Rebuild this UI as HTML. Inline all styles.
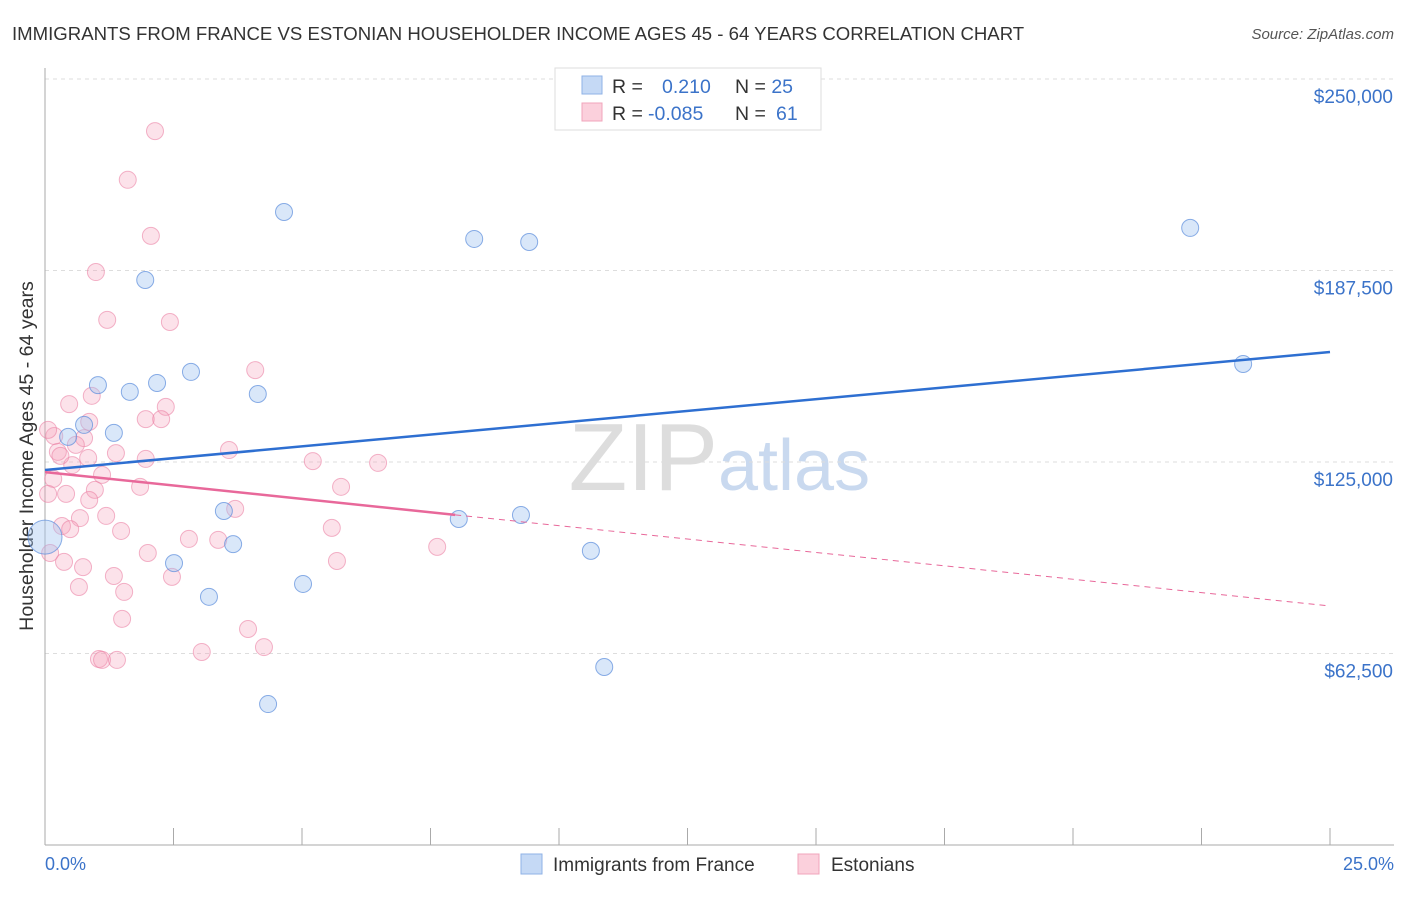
<!DOCTYPE html>
<html><head><meta charset="utf-8"><style>
body{margin:0;background:#fff;font-family:"Liberation Sans",sans-serif;}
svg text{font-family:"Liberation Sans",sans-serif;}
</style></head><body>
<svg width="1406" height="892">
<text x="12" y="40" font-size="18.6" fill="#333">IMMIGRANTS FROM FRANCE VS ESTONIAN HOUSEHOLDER INCOME AGES 45 - 64 YEARS CORRELATION CHART</text>
<text x="1394" y="39" font-size="15" fill="#555" text-anchor="end" font-style="italic">Source: ZipAtlas.com</text>
<text x="718" y="490" font-size="96" fill="#ddd" text-anchor="end" font-family="Liberation Serif">ZIP</text>
<text x="718" y="490" font-size="72" fill="#c9d9ef">atlas</text>
<g id="grid"></g>
<line x1="45" y1="68" x2="45" y2="845" stroke="#aaa"/>
<line x1="45" y1="845" x2="1394" y2="845" stroke="#aaa"/>
<g id="ticks"></g>
<text x="33" y="456" font-size="19.6" fill="#333" text-anchor="middle" transform="rotate(-90 33 456)">Householder Income Ages 45 - 64 years</text>
<text x="45" y="870" font-size="18" fill="#3b73c9">0.0%</text>
<text x="1394" y="870" font-size="18" fill="#3b73c9" text-anchor="end">25.0%</text>
<g id="pts"></g>
<g id="lines"></g>
<g>
<rect x="555" y="68" width="266" height="62" fill="#fff" stroke="#ddd"/>
<rect x="582" y="76" width="20" height="18" fill="#c5d9f5" stroke="#8fb2e6"/>
<rect x="582" y="103" width="20" height="18" fill="#fbd0dc" stroke="#f0a5bb"/>
<text x="612" y="93" font-size="19.5" fill="#333">R = <tspan fill="#3b73c9" x="662">0.210</tspan><tspan x="735">N = </tspan><tspan fill="#3b73c9">25</tspan></text>
<text x="612" y="120" font-size="19.5" fill="#333">R = <tspan fill="#3b73c9" x="648">-0.085</tspan><tspan x="735">N = </tspan><tspan fill="#3b73c9" x="776">61</tspan></text>
</g>
<g>
<rect x="521" y="854" width="21" height="20" fill="#c5d9f5" stroke="#8fb2e6"/>
<text x="553" y="871" font-size="19" fill="#333">Immigrants from France</text>
<rect x="798" y="854" width="21" height="20" fill="#fbd0dc" stroke="#f0a5bb"/>
<text x="831" y="871" font-size="19" fill="#333">Estonians</text>
</g>
</svg>
<script>
const yTicks=[62500,125000,187500,250000];
const yTickLabels=["$62,500","$125,000","$187,500","$250,000"];
const xTicks=[0,2.5,5,7.5,10,12.5,15,17.5,20,22.5,25];
const blueX=[4.65,8.35,9.42,22.28,1.95,23.31,1.03,1.65,2.18,2.84,4.14,0.76,1.34,0.45,3.48,3.66,2.51,3.19,5.02,8.05,9.26,10.62,10.88,4.34];
const blueY=[206600,197800,196800,201400,184400,157000,150100,147900,150800,154400,147200,137100,134500,133200,109000,98200,92000,81000,85200,106400,107700,96000,58100,46000];
const pinkX=[2.14,1.61,2.06,0.99,1.21,2.43,4.09,0.47,0.91,2.35,1.96,2.26,0.86,0.18,0.76,0.6,0.25,1.38,3.58,0.84,1.96,5.21,6.48,0.53,0.16,1.11,1.85,5.76,0.97,0.41,0.06,0.86,3.7,1.19,0.68,5.58,0.33,0.49,1.48,2.8,3.37,7.63,2.0,0.1,0.37,5.68,0.74,1.34,2.47,0.66,1.54,1.5,3.95,4.26,3.05,1.05,1.11,1.4,0.06,0.3];
const pinkY=[233000,217100,198800,187000,171400,170700,155000,143900,146600,143000,139000,139000,138100,133500,132800,130600,128300,127900,128900,126300,126000,125300,124700,124000,119500,120800,116900,116900,115900,114600,114600,112600,109700,107400,106700,103500,104100,103100,102500,99900,99600,97300,95300,95300,92400,92700,90700,87800,87500,84200,82600,73800,70500,64600,63000,60700,60400,60400,135500,127000];
const blueTrend=[122400,160900];
const pinkTrend=[121700,78000];
const pinkSolidEnd=7.98;
const X=p=>45+p/25*1285, Y=v=>845-v*766/250000;
const NS="http://www.w3.org/2000/svg";
function mk(t,a,parent){const e=document.createElementNS(NS,t);for(const k in a)e.setAttribute(k,a[k]);document.getElementById(parent).appendChild(e);return e;}
yTicks.forEach((v,i)=>{
 const l=mk('line',{x1:45,x2:1394,y1:Y(v),y2:Y(v),stroke:'#ddd','stroke-dasharray':'4,4'},'grid');
 
 
 const t=mk('text',{x:1393,y:Y(v)+24,'font-size':19,fill:'#3b73c9','text-anchor':'end'},'grid');t.textContent=yTickLabels[i];
 
 
});
xTicks.forEach(p=>{const l=mk('line',{x1:X(p),x2:X(p),y1:828,y2:845,stroke:'#aaa'},'ticks');
 
 });
pinkX.forEach((x,i)=>{const c=mk('circle',{cx:X(x),cy:Y(pinkY[i]),r:8.5,fill:'rgba(245,160,185,0.3)',stroke:'rgba(235,130,165,0.6)'},'pts');
 
 });
blueX.forEach((x,i)=>{const c=mk('circle',{cx:X(x),cy:Y(blueY[i]),r:8.5,fill:'rgba(160,195,240,0.4)',stroke:'rgba(90,140,220,0.7)'},'pts');
 
 });
{const c=mk('circle',{cx:X(0),cy:Y(100500),r:17,fill:'rgba(160,195,240,0.4)',stroke:'rgba(90,140,220,0.7)'},'pts');
 
 }
const bl=mk('line',{x1:X(0),y1:Y(blueTrend[0]),x2:X(25),y2:Y(blueTrend[1]),stroke:'#2e6fd1','stroke-width':2.5},'lines');


const pv=x=>pinkTrend[0]+(pinkTrend[1]-pinkTrend[0])*x/25;
const pl=mk('line',{x1:X(0),y1:Y(pv(0)),x2:X(pinkSolidEnd),y2:Y(pv(pinkSolidEnd)),stroke:'#e8689a','stroke-width':2.5},'lines');


const pd=mk('line',{x1:X(pinkSolidEnd),y1:Y(pv(pinkSolidEnd)),x2:X(25),y2:Y(pv(25)),stroke:'#e8689a','stroke-width':1,'stroke-dasharray':'6,5'},'lines');


</script>
</body></html>
